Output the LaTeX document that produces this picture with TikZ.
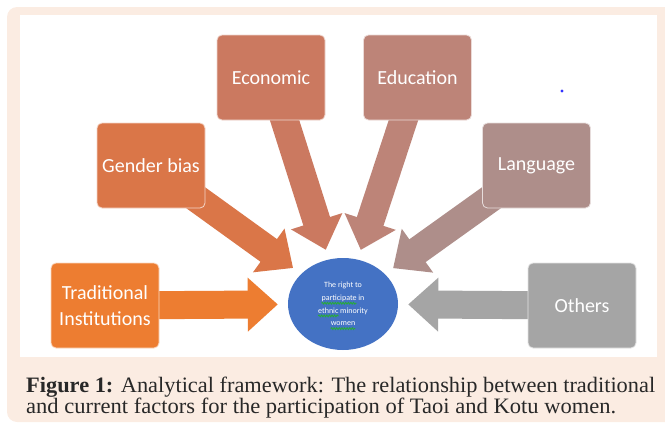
\documentclass[tikz,border=0pt]{standalone}
\usepackage{fontspec}
\usetikzlibrary{arrows.meta,shapes.geometric,decorations.pathmorphing}

\newfontfamily\boxfont{Carlito}
\newfontfamily\capfont{Liberation Serif}

\definecolor{peach}{RGB}{251,236,226}
\definecolor{tradc}{RGB}{237,125,49}
\definecolor{gendc}{RGB}{218,118,72}
\definecolor{econc}{RGB}{203,121,96}
\definecolor{educc}{RGB}{189,132,120}
\definecolor{langc}{RGB}{174,142,138}
\definecolor{othc}{RGB}{165,165,165}
\definecolor{hubc}{RGB}{68,114,196}
\definecolor{squig}{RGB}{40,170,60}
\definecolor{dotc}{RGB}{50,50,255}
\definecolor{captxt}{RGB}{40,40,40}

\pgfdeclarelayer{back}
\pgfdeclarelayer{arrowlayer}
\pgfsetlayers{back,arrowlayer,main}

\tikzset{
  factor/.style={rounded corners=5pt, minimum width=108pt, minimum height=85pt,
    inner sep=0pt, draw=white!70!#1, line width=0.8pt, fill=#1, text=white,
    align=center, font=\boxfont\fontsize{20}{26}\selectfont},
  hub/.style={ellipse, fill=hubc, minimum width=110pt, minimum height=92pt,
    inner sep=0pt, text=white, align=center,
    font=\boxfont\fontsize{8}{12.7}\selectfont},
  blockarrow/.style={line width=28pt, draw=#1,
    -{Triangle[width=52pt,length=30pt]}, shorten >=10pt},
  wavymark/.style={draw=squig, line width=0.9pt,
    decorate, decoration={snake, amplitude=0.9pt, segment length=2.6pt}},
  captionline/.style={anchor=base west, inner sep=0pt, text=captxt}
}

\begin{document}
\begin{tikzpicture}[x=1pt,y=-1pt]
\useasboundingbox (0,0) rectangle (665,423);

% panel and white drawing area
\begin{pgfonlayer}{back}
  \fill[peach, rounded corners=10pt] (7,7) rectangle (700,422);
  \fill[white] (20,15) rectangle (657,357);
\end{pgfonlayer}

% factor boxes
\node[factor=tradc] (trad)   at (105,305.5)   {Traditional\\Institutions};
\node[factor=gendc] (gender) at (151,165.5)   {Gender bias};
\node[factor=econc] (econ)   at (271,77.5)    {Economic};
\node[factor=educc] (educ)   at (417.5,77.5)  {Education};
\node[factor=langc] (lang)   at (536.5,165.5) {Language};
\node[factor=othc]  (others) at (582,305.5)   {Others};

% central ellipse
\node[hub] (hub) at (343,304)
  {The right to\\participate in\\ethnic minority\\women};

% spell-check waves under three words
\draw[wavymark] (321.5,303.2) -- (356.5,303.2);
\draw[wavymark] (318.2,315.9) -- (338.5,315.9);
\draw[wavymark] (330.7,328.6) -- (355.3,328.6);

% block arrows towards the centre
\begin{pgfonlayer}{arrowlayer}
  \draw[blockarrow=tradc] (trad.center)   -- (hub);
  \draw[blockarrow=gendc] (gender.center) -- (hub);
  \draw[blockarrow=econc] (econ.center)   -- (hub);
  \draw[blockarrow=educc] (educ.center)   -- (hub);
  \draw[blockarrow=langc] (lang.center)   -- (hub);
  \draw[blockarrow=othc]  (others.center) -- (hub);
\end{pgfonlayer}

% stray dot
\fill[dotc] (562,91) circle (1.6pt);

% caption
\node[captionline] (cap1) at (26,392)
  {\resizebox{629pt}{\height}{\capfont\fontsize{22}{26}\selectfont\textbf{Figure 1:} Analytical framework: The relationship between traditional}};
\node[captionline] (cap2) at (26,413)
  {\resizebox{590pt}{\height}{\capfont\fontsize{22}{26}\selectfont and current factors for the participation of Taoi and Kotu women.}};
\end{tikzpicture}
\end{document}
